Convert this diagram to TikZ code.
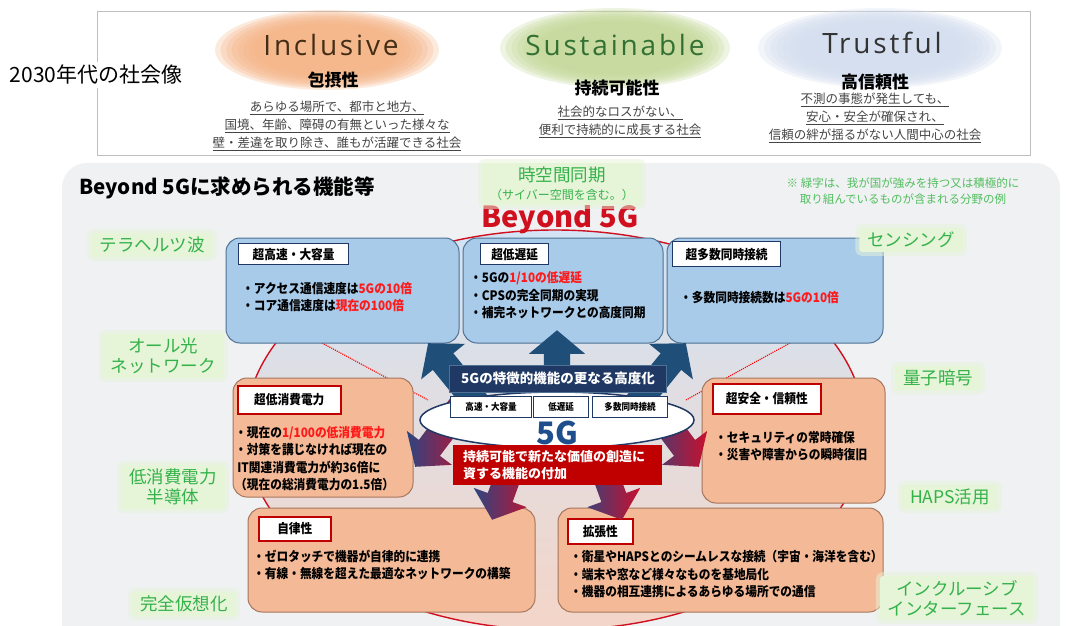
\documentclass[tikz,border=0pt]{standalone}
\usepackage{fontspec}
\setmainfont{Noto Sans CJK JP}
\newfontfamily\cond[FakeStretch=0.9]{Noto Sans CJK JP}
\newfontfamily\hand[LetterSpace=10]{Open Sans}
\usetikzlibrary{shapes.arrows,shapes.geometric,fit}
\definecolor{navy}{HTML}{1F3864}
\definecolor{arrnavy}{HTML}{1F4E79}
\definecolor{boxblue}{HTML}{A8CBEA}
\definecolor{boxblueline}{HTML}{4F7193}
\definecolor{boxorange}{HTML}{F4B996}
\definecolor{boxorangeline}{HTML}{A7765E}
\definecolor{darkred}{HTML}{C00000}
\definecolor{brightred}{HTML}{FF1A1A}
\definecolor{greentxt}{HTML}{34B24A}
\definecolor{notegreen}{HTML}{52BE5E}
\definecolor{greenbg}{HTML}{E6F4D8}
\definecolor{panelbg}{HTML}{EFF1F3}
\definecolor{topline}{HTML}{BFBFBF}
\definecolor{bredline}{HTML}{D0101F}
\definecolor{fiveg}{HTML}{1F4E8C}
\definecolor{incl}{HTML}{F5B485}
\definecolor{sust}{HTML}{C5D89A}
\definecolor{trus}{HTML}{D3DEEF}
\definecolor{desctxt}{HTML}{444444}
\definecolor{arrred}{HTML}{C8102E}
\definecolor{arrpurple}{HTML}{2E4580}
\definecolor{elltop}{HTML}{D2E4F5}
\definecolor{ellmid}{HTML}{E2E8F2}
\definecolor{ellbot}{HTML}{F4D5C8}
\tikzset{
  bluebox/.style={draw=boxblueline, line width=1pt, fill=boxblue, rounded corners=14pt, inner sep=0pt},
  orangebox/.style={draw=boxorangeline, line width=1pt, fill=boxorange, rounded corners=14pt, inner sep=0pt},
  bluetag/.style={draw=navy, line width=1.3pt, fill=white, anchor=north west, inner sep=0pt, font=\cond\bfseries\fontsize{13}{15}\selectfont},
  redtag/.style={draw=darkred, line width=1.6pt, fill=white, anchor=north west, inner sep=0pt, font=\cond\bfseries\fontsize{13}{15}\selectfont},
  smalltag/.style={draw=navy, line width=1.2pt, fill=white, anchor=north west, inner sep=0pt, font=\cond\bfseries\fontsize{9.5}{11}\selectfont},
  bul/.style={anchor=west, align=left, inner sep=0pt, font=\cond\bfseries\fontsize{13}{17.5}\selectfont},
  glab/.style={text=greentxt, font=\fontsize{17.5}{20}\selectfont, align=center, fill=greenbg, rounded corners=3pt, inner xsep=8pt, inner ysep=4pt, preaction={draw=greenbg, line width=8pt, opacity=.5}},
  desc/.style={font=\fontsize{12.5}{18}\selectfont, text=desctxt, align=center, inner sep=0pt},
  arrowbase/.style={single arrow, draw=none, text height=26pt, text depth=0pt, text width=0pt, single arrow head extend=15pt, single arrow tip angle=100, inner sep=0pt, anchor=tip},
  navyarrow/.style={arrowbase, fill=arrnavy},
  redarrow/.style={arrowbase, left color=arrpurple, middle color=arrred!75!arrpurple, right color=arrred},
  reddot/.style={draw=red, densely dotted, line width=1.1pt},
}
\begin{document}
\begin{tikzpicture}[x=1pt,y=-1pt]
\useasboundingbox (0,0) rectangle (1077,626);
\clip (0,0) rectangle (1077,626);
\fill[white] (0,0) rectangle (1077,626);

% ---------- top area ----------
\node[draw=topline, line width=1pt, fill=white, inner sep=0pt, fit={(97,12) (1030,155)}] (topbox) {};
\foreach \s in {1,0.95,0.9,0.85,0.8,0.75,0.7,0.65}{
  \fill[incl, opacity=0.28] (327,50) ellipse ({112*\s} and {40*\s});
  \fill[sust, opacity=0.28] (615,48) ellipse ({115*\s} and {40*\s});
  \fill[trus, opacity=0.28] (880,48) ellipse ({122*\s} and {40*\s});
}
\node[fill=white, inner sep=3pt, font=\fontsize{21}{24}\selectfont] (era) at (96,75) {2030年代の社会像};

\node[font=\hand\fontsize{28}{30}\selectfont, text=black!65!brown] (inc) at (331,45) {Inclusive};
\node[font=\bfseries\fontsize{17}{20}\selectfont] (inck) at (333,80) {包摂性};
\node[desc] (incd) at (337,126) {\underline{あらゆる場所で、都市と地方、}\\\underline{国境、年齢、障碍の有無といった様々な}\\\underline{壁・差違を取り除き、誰もが活躍できる社会}};

\node[font=\hand\fontsize{28}{30}\selectfont, text=black!60!green!60!gray] (sus) at (615,45) {Sustainable};
\node[font=\bfseries\fontsize{17}{20}\selectfont] (susk) at (617,88) {持続可能性};
\node[desc] (susd) at (620,122) {\underline{社会的なロスがない、}\\\underline{便利で持続的に成長する社会}};

\node[font=\hand\fontsize{28}{30}\selectfont, text=black!80] (tru) at (882,43) {Trustful};
\node[font=\bfseries\fontsize{17}{20}\selectfont] (truk) at (875,82) {高信頼性};
\node[desc] (trud) at (875,118) {\underline{不測の事態が発生しても、}\\\underline{安心・安全が確保され、}\\\underline{信頼の絆が揺るがない人間中心の社会}};

% ---------- lower panel ----------
\fill[panelbg, rounded corners=25pt] (62,163) rectangle (1060,680);
\node[ellipse, draw=bredline, line width=1.4pt, top color=elltop, middle color=ellmid, bottom color=ellbot, minimum width=620pt, minimum height=400pt, inner sep=0pt] (bigell) at (555,430) {};

\node[anchor=west, font=\bfseries\fontsize{20.5}{24}\selectfont] (title) at (76,188) {Beyond 5Gに求められる機能等};
\node[align=center, text=notegreen, font=\fontsize{11.5}{16}\selectfont, inner sep=0pt] (note) at (903,191) {※ 緑字は、我が国が強みを持つ又は積極的に\\取り組んでいるものが含まれる分野の例};

% dotted connectors
\coordinate (dl1) at (322,343);
\coordinate (dl2) at (428,400);
\coordinate (dr1) at (790,343);
\coordinate (dr2) at (686,400);
\draw[reddot] (dl1) -- (dl2);
\draw[reddot] (dr1) -- (dr2);

% blue boxes
\node[bluebox, fit={(226,238) (459,343)}] (hb1) {};
\node[bluebox, fit={(463,238) (663,343)}] (hb2) {};
\node[bluebox, fit={(667,238) (883,343)}] (hb3) {};
\node[bluetag, minimum width=110pt, minimum height=21pt] (t1) at (238,243) {超高速・大容量};
\node[bluetag, minimum width=68pt, minimum height=21pt] (t2) at (480,243) {超低遅延};
\node[bluetag, minimum width=108pt, minimum height=25pt] (t3) at (672,241) {超多数同時接続};
\node[bul] (b1) at (242,297) {・アクセス通信速度は\textcolor{brightred}{5Gの10倍}\\・コア通信速度は\textcolor{brightred}{現在の100倍}};
\node[bul] (b2) at (470,295.5) {・5Gの\textcolor{brightred}{1/10の低遅延}\\・CPSの完全同期の実現\\・補完ネットワークとの高度同期};
\node[bul] (b3) at (680,298) {・多数同時接続数は\textcolor{brightred}{5Gの10倍}};

% orange boxes
\node[orangebox, fit={(233,378) (413,497)}] (ob1) {};
\node[orangebox, fit={(248,508) (535,612)}] (ob2) {};
\node[orangebox, fit={(702,378) (885,503)}] (ob3) {};
\node[orangebox, fit={(558,508) (883,612)}] (ob4) {};
\node[redtag, minimum width=103pt, minimum height=28pt] (o1) at (237,385) {超低消費電力};
\node[redtag, minimum width=72pt, minimum height=24pt] (o2) at (258,516) {自律性};
\node[redtag, minimum width=108pt, minimum height=30pt] (o3) at (712,383) {超安全・信頼性};
\node[redtag, minimum width=65pt, minimum height=25pt] (o4) at (567,518) {拡張性};
\node[bul] (c1) at (235,458.5) {・現在の\textcolor{brightred}{1/100の低消費電力}\\・対策を講じなければ現在の\\\,IT関連消費電力が約36倍に\\（現在の総消費電力の1.5倍）};
\node[bul] (c2) at (253,565) {・ゼロタッチで機器が自律的に連携\\・有線・無線を超えた最適なネットワークの構築};
\node[bul] (c3) at (715,446) {・セキュリティの常時確保\\・災害や障害からの瞬時復旧};
\node[bul] (c4) at (570,574.5) {・衛星やHAPSとのシームレスな接続（宇宙・海洋を含む）\\・端末や窓など様々なものを基地局化\\・機器の相互連携によるあらゆる場所での通信};

% arrows
\node[navyarrow, rotate=90, minimum height=50pt] (au2) at (557,330) {};
\node[navyarrow, rotate=129, minimum height=78pt] (au1) at (428,343) {};
\node[navyarrow, rotate=51, minimum height=78pt] (au3) at (686,343) {};
\node[redarrow, rotate=233, minimum height=78pt] (ad1) at (415,467) {};
\node[redarrow, rotate=-53, minimum height=78pt] (ad4) at (699,467) {};
\node[redarrow, rotate=250, minimum height=88pt] (ad2) at (492,520) {};
\node[redarrow, rotate=-70, minimum height=88pt] (ad3) at (622,520) {};

% 5G core
\node[ellipse, draw=navy, line width=1.5pt, fill=white, minimum width=274pt, minimum height=56pt, inner sep=0pt] (wel) at (557,420) {};
\node[fill=navy, draw=boxblueline, line width=1pt, minimum width=217pt, minimum height=27pt, inner sep=0pt, text=white, font=\bfseries\fontsize{13.5}{15}\selectfont] (adv) at (558,378.5) {5Gの特徴的機能の更なる高度化};
\node[smalltag, minimum width=81pt, minimum height=21pt] (s1) at (450,396) {高速・大容量};
\node[smalltag, minimum width=55pt, minimum height=21pt] (s2) at (533,396) {低遅延};
\node[smalltag, minimum width=75pt, minimum height=21pt] (s3) at (592,396) {多数同時接続};
\node[text=fiveg, font=\bfseries\fontsize{31}{33}\selectfont, inner sep=0pt] (fg) at (557,433) {5G};
\node[fill=darkred, minimum width=209pt, minimum height=40pt, inner sep=0pt] (rb) at (557.5,465) {};
\node[anchor=west, align=left, text=white, inner sep=0pt, font=\bfseries\fontsize{13}{16.5}\selectfont] (rbt) at (463,465) {持続可能で新たな価値の創造に\\資する機能の付加};

% Beyond 5G
\node[text=bredline, font=\bfseries\fontsize{29}{32}\selectfont, inner sep=0pt] (b5g) at (560,219) {Beyond 5G};

% green labels
\node[glab] (g0) at (562,184) {時空間同期\\[-2pt]{\fontsize{12}{14}\selectfont （サイバー空間を含む。）}};
\node[glab] (g1) at (152,245) {テラヘルツ波};
\node[glab] (g2) at (163,356) {オール光\\ネットワーク};
\node[glab] (g3) at (173,487) {低消費電力\\半導体};
\node[glab] (g4) at (184,604) {完全仮想化};
\node[glab] (g5) at (911,240) {センシング};
\node[glab] (g6) at (938,378) {量子暗号};
\node[glab] (g7) at (950,497) {HAPS活用};
\node[glab] (g8) at (957,598) {インクルーシブ\\インターフェース};
\end{tikzpicture}
\end{document}
